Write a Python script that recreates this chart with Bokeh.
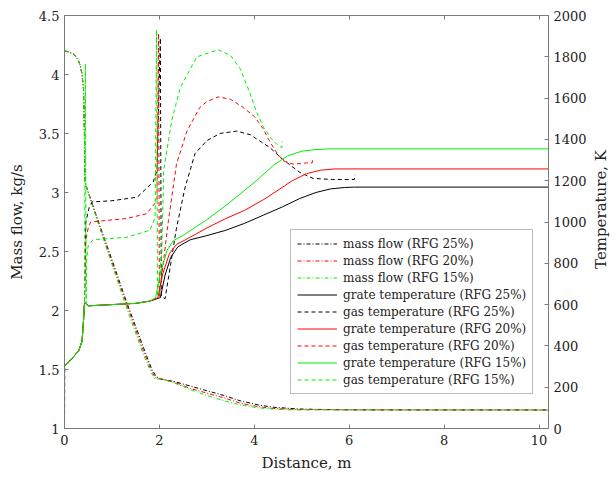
import math
from bokeh.plotting import figure
from bokeh.models import Range1d, LinearAxis, Legend, LegendItem, FixedTicker
from bokeh.layouts import row
from bokeh.core.properties import value
from bokeh.embed import file_html
from bokeh.resources import INLINE

# ---------------- data ----------------
# mass flow, kg/s
x_mf25 = [0, 0.1, 0.2, 0.28, 0.33, 0.37, 0.40, 0.42, 0.43, 0.46, 0.7, 1.0, 1.31, 1.67, 1.83, 1.93, 2.03, 2.29, 2.65, 3.0, 3.36, 3.7, 4.08, 4.4, 4.96, 5.6, 6.2, 10.2]
m_mf25 = [4.2, 4.19, 4.17, 4.13, 4.08, 4.0, 3.88, 3.5, 3.1, 3.05, 2.77, 2.43, 2.07, 1.68, 1.51, 1.44, 1.42, 1.40, 1.36, 1.32, 1.28, 1.235, 1.20, 1.18, 1.165, 1.16, 1.157, 1.157]
x_mf20 = [0, 0.1, 0.2, 0.28, 0.33, 0.37, 0.40, 0.42, 0.43, 0.46, 0.7, 1.0, 1.31, 1.67, 1.83, 1.92, 2.03, 2.29, 2.65, 3.0, 3.36, 3.7, 4.08, 4.4, 4.96, 10.2]
m_mf20 = [4.2, 4.19, 4.17, 4.13, 4.08, 4.0, 3.88, 3.5, 3.1, 3.05, 2.76, 2.41, 2.05, 1.65, 1.49, 1.43, 1.42, 1.395, 1.34, 1.30, 1.26, 1.215, 1.185, 1.17, 1.16, 1.157]
x_mf15 = [0, 0.1, 0.2, 0.28, 0.33, 0.37, 0.40, 0.42, 0.43, 0.46, 0.7, 1.0, 1.31, 1.67, 1.83, 1.91, 2.03, 2.29, 2.65, 3.0, 3.36, 3.7, 4.08, 4.4, 4.7, 10.2]
m_mf15 = [4.2, 4.19, 4.17, 4.13, 4.08, 4.0, 3.88, 3.5, 3.1, 3.05, 2.75, 2.39, 2.02, 1.62, 1.47, 1.42, 1.42, 1.39, 1.33, 1.28, 1.235, 1.20, 1.175, 1.165, 1.158, 1.157]

# grate temperature, K
x_gr25 = [0, 0.15, 0.30, 0.37, 0.40, 0.42, 0.44, 0.5, 1.0, 1.5, 1.8, 2.02, 2.12, 2.24, 2.39, 2.65, 3.0, 3.4, 3.8, 4.2, 4.6, 4.96, 5.3, 5.6, 5.9, 6.11, 10.2]
t_gr25 = [303, 337, 377, 423, 520, 600, 611, 594, 600, 606, 617, 634, 743, 829, 880, 914, 934, 960, 994, 1034, 1074, 1114, 1143, 1160, 1167, 1169, 1169]
x_gr20 = [0, 0.15, 0.30, 0.37, 0.40, 0.42, 0.44, 0.5, 1.0, 1.5, 1.8, 1.97, 2.07, 2.21, 2.36, 2.55, 3.0, 3.4, 3.8, 4.2, 4.5, 4.8, 5.1, 5.4, 5.7, 10.2]
t_gr20 = [303, 337, 377, 423, 520, 600, 611, 594, 600, 606, 617, 634, 749, 846, 891, 914, 971, 1017, 1057, 1109, 1154, 1200, 1234, 1251, 1257, 1257]
x_gr15 = [0, 0.15, 0.30, 0.37, 0.40, 0.42, 0.44, 0.5, 1.0, 1.5, 1.8, 1.92, 2.02, 2.16, 2.29, 2.51, 3.0, 3.4, 3.8, 4.1, 4.4, 4.7, 5.0, 5.3, 5.6, 10.2]
t_gr15 = [303, 337, 377, 423, 520, 600, 611, 594, 600, 606, 617, 634, 749, 863, 909, 937, 1011, 1080, 1154, 1211, 1274, 1320, 1343, 1351, 1354, 1354]

# gas temperature, K
x_gs25 = [0, 0.003, 0.15, 0.30, 0.37, 0.40, 0.42, 0.45, 0.52, 0.58, 1.0, 1.53, 1.87, 1.95, 2.02, 2.04, 2.12, 2.36, 2.54, 2.75, 3.0, 3.28, 3.63, 3.91, 4.33, 4.6, 4.96, 5.24, 5.65, 6.11, 6.12]
t_gs25 = [0, 303, 337, 377, 423, 520, 600, 1000, 1070, 1097, 1103, 1120, 1194, 1251, 1891, 640, 629, 971, 1166, 1331, 1394, 1429, 1440, 1423, 1360, 1303, 1240, 1211, 1206, 1206, 1229]
x_gs20 = [0, 0.003, 0.15, 0.30, 0.37, 0.40, 0.42, 0.45, 0.5, 0.55, 1.31, 1.73, 1.95, 1.98, 2.00, 2.02, 2.19, 2.36, 2.58, 2.85, 3.0, 3.24, 3.5, 3.77, 4.01, 4.19, 4.3, 4.45, 4.6, 4.82, 5.1, 5.22, 5.23]
t_gs20 = [0, 303, 337, 377, 423, 520, 600, 914, 971, 1000, 1017, 1040, 1103, 1914, 640, 686, 1006, 1280, 1440, 1554, 1583, 1606, 1594, 1554, 1509, 1451, 1400, 1343, 1297, 1280, 1286, 1286, 1309]
x_gs15 = [0, 0.003, 0.15, 0.30, 0.37, 0.40, 0.42, 0.44, 0.455, 0.47, 0.5, 0.6, 1.31, 1.80, 1.91, 1.94, 1.96, 2.05, 2.09, 2.26, 2.44, 2.79, 3.24, 3.5, 3.7, 3.9, 4.05, 4.2, 4.35, 4.5, 4.58, 4.59]
t_gs15 = [0, 303, 337, 377, 423, 520, 600, 1766, 606, 829, 886, 914, 926, 960, 1023, 1931, 640, 846, 1251, 1491, 1651, 1800, 1834, 1806, 1743, 1629, 1531, 1457, 1406, 1371, 1360, 1389]

left_ticks = [1, 1.5, 2, 2.5, 3, 3.5, 4, 4.5]
left_tick_labels = ["1", "1.5", "2", "2.5", "3", "3.5", "4", "4.5"]
right_ticks = [0, 200, 400, 600, 800, 1000, 1200, 1400, 1600, 1800, 2000]
x_ticks = [0, 2, 4, 6, 8, 10]
right_title = ["Temperature, K"]

BLACK, RED, GREEN = "#000000", "#ff0000", "#00ee00"
FONT = "DejaVu Serif"
AX = "#7a7a7a"
TXT = "#222222"

p = figure(width=589, height=477, output_backend="svg", toolbar_location=None,
           x_range=Range1d(0, 10.2), y_range=Range1d(1, 4.5),
           min_border_left=64, min_border_right=40, min_border_top=15, min_border_bottom=49)
p.extra_y_ranges = {"temp": Range1d(0, 2000)}
p.xgrid.visible = False
p.ygrid.visible = False
p.outline_line_color = AX
p.background_fill_color = "white"
p.border_fill_color = "white"

def style(ax):
    ax.axis_line_color = AX
    ax.major_tick_line_color = AX
    ax.major_tick_in = 4
    ax.major_tick_out = 0
    ax.minor_tick_line_color = None
    ax.major_label_text_font = FONT
    ax.major_label_text_font_size = "13px"
    ax.major_label_text_color = TXT
    ax.axis_label_text_font = FONT
    ax.axis_label_text_font_size = "15px"
    ax.axis_label_text_font_style = "normal"
    ax.axis_label_text_color = TXT

p.xaxis.ticker = FixedTicker(ticks=x_ticks)
p.xaxis.axis_label = "Distance, m"
p.xaxis.major_label_standoff = 6
p.xaxis.axis_label_standoff = 6
style(p.xaxis[0])

p.yaxis.ticker = FixedTicker(ticks=left_ticks)
p.yaxis.major_label_overrides = dict(zip(left_ticks, left_tick_labels))
p.yaxis.axis_label = "Mass flow, kg/s"
p.yaxis.major_label_standoff = 5
p.yaxis.axis_label_standoff = 10
style(p.yaxis[0])

ax_r = LinearAxis(y_range_name="temp", ticker=FixedTicker(ticks=right_ticks))
style(ax_r)
ax_r.major_label_standoff = 5
p.add_layout(ax_r, "right")

ax_t = LinearAxis(ticker=FixedTicker(ticks=x_ticks))
style(ax_t)
ax_t.major_label_overrides = {t: "" for t in x_ticks}
ax_t.major_label_standoff = 0
p.add_layout(ax_t, "above")

MF_DASH = "4 2 1 2"
GAS_DASH = "4 3"

r1 = p.line(x_mf25, m_mf25, line_color=BLACK, line_width=1, line_dash=MF_DASH)
r2 = p.line(x_mf20, m_mf20, line_color=RED, line_width=1, line_dash=MF_DASH)
r3 = p.line(x_mf15, m_mf15, line_color=GREEN, line_width=1, line_dash=MF_DASH)
r4 = p.line(x_gr25, t_gr25, line_color=BLACK, line_width=1, y_range_name="temp")
r5 = p.line(x_gs25, t_gs25, line_color=BLACK, line_width=1, line_dash=GAS_DASH, y_range_name="temp")
r6 = p.line(x_gr20, t_gr20, line_color=RED, line_width=1, y_range_name="temp")
r7 = p.line(x_gs20, t_gs20, line_color=RED, line_width=1, line_dash=GAS_DASH, y_range_name="temp")
r8 = p.line(x_gr15, t_gr15, line_color=GREEN, line_width=1, y_range_name="temp")
r9 = p.line(x_gs15, t_gs15, line_color=GREEN, line_width=1, line_dash=GAS_DASH, y_range_name="temp")

labels = ["mass flow (RFG 25%)", "mass flow (RFG 20%)", "mass flow (RFG 15%)",
          "grate temperature (RFG 25%)", "gas temperature (RFG 25%)",
          "grate temperature (RFG 20%)", "gas temperature (RFG 20%)",
          "grate temperature (RFG 15%)", "gas temperature (RFG 15%)"]
rs = [r1, r2, r3, r4, r5, r6, r7, r8, r9]
legend = Legend(items=[LegendItem(label=l, renderers=[r]) for l, r in zip(labels, rs)],
                location=(226, 34))
legend.label_text_font = FONT
legend.label_text_font_size = "12px"
legend.label_text_color = TXT
legend.glyph_width = 40
legend.glyph_height = 15
legend.label_height = 15
legend.label_standoff = 6
legend.spacing = 2
legend.padding = 6
legend.margin = 0
legend.border_line_color = AX
legend.background_fill_alpha = 1
p.add_layout(legend)

# narrow strip on the right holding the right-hand axis title (reads bottom to top)
p2 = figure(width=26, height=477, output_backend="svg", toolbar_location=None,
            x_range=Range1d(0, 26), y_range=Range1d(477, 0),
            min_border_left=0, min_border_right=0, min_border_top=0, min_border_bottom=0)
p2.axis.visible = False
p2.grid.visible = False
p2.outline_line_color = None
p2.background_fill_color = "white"
p2.border_fill_color = "white"
p2.text(x=[11], y=[224], text=right_title, angle=math.pi / 2,
        text_align="center", text_baseline="middle",
        text_font=value(FONT), text_font_size="15px", text_color=TXT)

layout = row(p, p2, spacing=0)
open("out.html", "w").write(file_html(layout, INLINE))
